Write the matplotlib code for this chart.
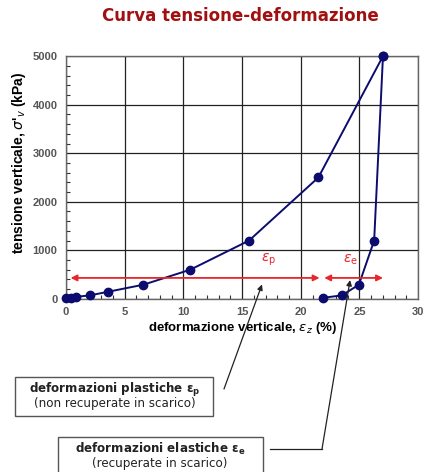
import numpy as np
import matplotlib
matplotlib.use('Agg')
import matplotlib.pyplot as plt
from matplotlib.ticker import MultipleLocator
from matplotlib.patches import Rectangle
from matplotlib.lines import Line2D

# loading branch
carico_x = [0.05, 0.4, 0.85, 2.05, 3.6, 6.6, 10.6, 15.6, 21.5, 27.0]
carico_y = [20, 20, 40, 70, 145, 290, 600, 1200, 2500, 5000]
# unloading branch
scarico_x = [27.0, 26.25, 24.95, 23.5, 21.9]
scarico_y = [5000, 1200, 290, 70, 20]

x_ticks = [0, 5, 10, 15, 20, 25, 30]
y_ticks = [0, 1000, 2000, 3000, 4000, 5000]

navy = '#0c0c6e'
red = '#e8262b'
H = 472  # figure height in px, used to place things from the top

fig = plt.figure(figsize=(4.25, 4.72), dpi=100)
ax = fig.add_axes([0.155, 0.367, 0.829, 0.514])

ax.plot(carico_x, carico_y, '-o', color=navy, lw=1.4, ms=6, clip_on=False, zorder=3)
ax.plot(scarico_x, scarico_y, '-o', color=navy, lw=1.4, ms=6, clip_on=False, zorder=3)

ax.set_xlim(0, 30)
ax.set_ylim(0, 5000)
ax.set_xticks(x_ticks)
ax.set_yticks(y_ticks)
ax.xaxis.set_minor_locator(MultipleLocator(1))
ax.yaxis.set_minor_locator(MultipleLocator(200))
ax.tick_params(which='both', direction='in', colors='#333333', labelcolor='#555555')
ax.tick_params(which='major', length=0, labelsize=8, pad=6)
ax.tick_params(which='minor', length=3, width=0.8)
for lab in ax.get_xticklabels() + ax.get_yticklabels():
    lab.set_fontweight('bold')
    lab.set_family('Liberation Sans')
ax.grid(True, which='major', color='#222222', lw=0.9)
for s in ax.spines.values():
    s.set_color('#666666')
    s.set_linewidth(1.0)

ax.set_xlabel("deformazione verticale, $\\varepsilon_z$ (%)", fontsize=9.5,
              fontweight='bold', family='Liberation Sans', labelpad=2)
ax.set_ylabel("tensione verticale, $\\sigma$'$_v$ (kPa)", fontsize=10,
              fontweight='bold', family='Liberation Sans', labelpad=3, y=0.56)

# red double arrows
ax.annotate('', xy=(0.4, 430), xytext=(21.6, 430),
            arrowprops=dict(arrowstyle='<|-|>', color=red, lw=1.3,
                            mutation_scale=9, shrinkA=0, shrinkB=0))
ax.annotate('', xy=(22.0, 430), xytext=(27.0, 430),
            arrowprops=dict(arrowstyle='<|-|>', color=red, lw=1.3,
                            mutation_scale=9, shrinkA=0, shrinkB=0))
ax.text(17.3, 800, '$\\varepsilon_\\mathrm{p}$', color=red, fontsize=10,
        ha='center', va='center')
ax.text(24.2, 800, '$\\varepsilon_\\mathrm{e}$', color=red, fontsize=10,
        ha='center', va='center')

fig.text(240 / 425, 1 - 16 / H, 'Curva tensione-deformazione', color='#a01010',
         fontsize=12, fontweight='bold', ha='center', va='center')

# annotation boxes (pixel positions measured from the top-left)
def box(x0, y0, x1, y1):
    r = Rectangle((x0, H - y1), x1 - x0, y1 - y0, transform=None,
                  fc='white', ec='#555555', lw=1.0, zorder=5)
    fig.patches.append(r)

def ftext(x, y, s, **kw):
    fig.text(x / 425, 1 - y / H, s, ha='center', va='center', fontsize=8.6,
             color='#222222', zorder=6, **kw)

box(15, 377, 213, 416)
ftext(115, 390, 'deformazioni plastiche $\\mathbf{\\varepsilon_p}$', fontweight='bold')
ftext(115, 404, '(non recuperate in scarico)')

box(58, 437, 263, 480)
ftext(160, 449, 'deformazioni elastiche $\\mathbf{\\varepsilon_e}$', fontweight='bold')
ftext(160, 463, '(recuperate in scarico)')

# pointer arrows
ax.annotate('', xy=(16.7, 295), xycoords='data',
            xytext=(224, H - 389), textcoords='figure pixels',
            annotation_clip=False,
            arrowprops=dict(arrowstyle='-|>', color='#222222', lw=0.9,
                            mutation_scale=8, shrinkA=0, shrinkB=0))
fig.lines.append(Line2D([270, 322], [H - 449, H - 449], transform=None,
                        color='#222222', lw=0.9))
ax.annotate('', xy=(24.2, 385), xycoords='data',
            xytext=(322, H - 449), textcoords='figure pixels',
            annotation_clip=False,
            arrowprops=dict(arrowstyle='-|>', color='#222222', lw=0.9,
                            mutation_scale=8, shrinkA=0, shrinkB=0))

fig.savefig('out.png', dpi=100)
